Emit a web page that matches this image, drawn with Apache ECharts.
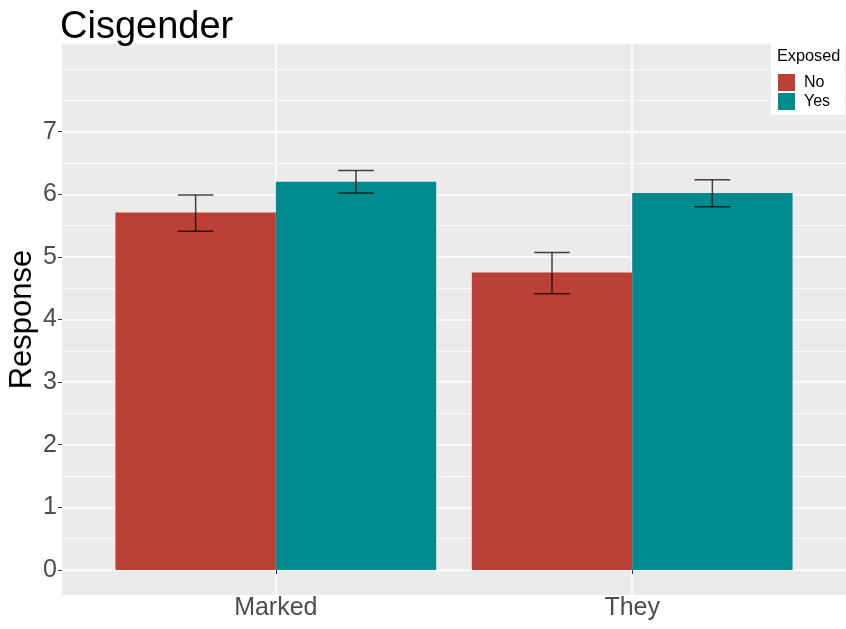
<!DOCTYPE html>
<html>
<head>
<meta charset="utf-8">
<title>Cisgender</title>
<script src="https://cdn.jsdelivr.net/npm/echarts@6/dist/echarts.min.js"></script>
<style>
  html, body { margin: 0; padding: 0; background: #fff; }
  #chart { width: 846px; height: 629px; }
</style>
</head>
<body>
<div id="chart"></div>
<script>
// data
var categories = ['Marked', 'They'];
var groups = ['No', 'Yes'];
var noMean = [5.71, 4.75];
var noLow = [5.41, 4.41];
var noHigh = [5.99, 5.07];
var yesMean = [6.20, 6.02];
var yesLow = [6.02, 5.80];
var yesHigh = [6.38, 6.23];
var yTicks = [0, 1, 2, 3, 4, 5, 6, 7];
var yMinor = [0.5, 1.5, 2.5, 3.5, 4.5, 5.5, 6.5, 7.5, 8];

var colors = ['#BB4035', '#008B8E'];
var font = 'Liberation Sans, Arial, sans-serif';

function rows(mean, low, high) {
    return mean.map(function (m, i) { return [i + 1, m, low[i], high[i]]; });
}

// bar + errorbar drawn through the axes, offset is the dodge position
function makeRender(offset) {
    return function (params, api) {
        var cx = api.value(0) + offset;
        var tl = api.coord([cx - 0.225, api.value(1)]);
        var br = api.coord([cx + 0.225, 0]);
        var lo = api.coord([cx, api.value(2)]);
        var hi = api.coord([cx, api.value(3)]);
        var capL = api.coord([cx - 0.05, 0])[0];
        var capR = api.coord([cx + 0.05, 0])[0];
        var es = { stroke: 'rgba(0,0,0,0.72)', lineWidth: 1.5 };
        return {
            type: 'group',
            children: [
                { type: 'rect', shape: { x: tl[0], y: tl[1], width: br[0] - tl[0], height: br[1] - tl[1] },
                  style: { fill: api.visual('color') } },
                { type: 'line', shape: { x1: hi[0], y1: hi[1], x2: lo[0], y2: lo[1] }, style: es },
                { type: 'line', shape: { x1: capL, y1: hi[1], x2: capR, y2: hi[1] }, style: es },
                { type: 'line', shape: { x1: capL, y1: lo[1], x2: capR, y2: lo[1] }, style: es }
            ]
        };
    };
}

var chart = echarts.init(document.getElementById('chart'));
var option = {
    backgroundColor: '#ffffff',
    animation: false,
    textStyle: { fontFamily: font },
    title: [{
        text: 'Cisgender',
        left: 60,
        top: 9,
        padding: 0,
        textStyle: { fontSize: 38, fontWeight: 'normal', color: '#000', fontFamily: font }
    }, {
        text: 'Exposed',
        left: 777,
        top: 49,
        padding: 0,
        z: 10,
        textStyle: { fontSize: 16.3, fontWeight: 'normal', color: '#000', fontFamily: font }
    }],
    legend: {
        data: groups,
        orient: 'vertical',
        left: 771,
        top: 44,
        padding: [30, 15, 5, 7],
        backgroundColor: '#ffffff',
        icon: 'rect',
        itemWidth: 17,
        itemHeight: 17,
        itemGap: 2,
        selectedMode: false,
        textStyle: { fontSize: 16, color: '#000', fontFamily: font, padding: [0, 0, 0, 4] }
    },
    grid: {
        left: 62, right: 0, top: 44, bottom: 34,
        outerBoundsMode: 'none',
        containLabel: false,
        show: true, backgroundColor: '#EBEBEB', borderWidth: 0
    },
    xAxis: {
        type: 'value',
        min: 0.4,
        max: 2.6,
        axisLine: { show: false },
        axisTick: { show: true, length: 4, lineStyle: { color: '#333', width: 1 }, customValues: [1, 2] },
        axisLabel: {
            customValues: [1, 2],
            margin: 1,
            fontSize: 25,
            color: '#4D4D4D',
            fontFamily: font,
            formatter: function (v) { return categories[Math.round(v) - 1] || ''; }
        },
        splitLine: { show: true, lineStyle: { color: '#ffffff', width: 1.6 } }
    },
    yAxis: [{
        type: 'value',
        min: -0.4,
        max: 8.4,
        name: 'Response',
        nameLocation: 'middle',
        nameRotate: 90,
        nameGap: 24,
        nameMoveOverlap: false,
        nameTextStyle: { fontSize: 31, color: '#000', fontFamily: font },
        axisLine: { show: false },
        axisTick: { show: true, length: 4, lineStyle: { color: '#333', width: 1 }, customValues: yTicks },
        axisLabel: { customValues: yTicks, margin: 5, fontSize: 25, color: '#4D4D4D', fontFamily: font },
        splitLine: { show: true, lineStyle: { color: '#ffffff', width: 1.6 } }
    }, {
        type: 'value',
        min: -0.4,
        max: 8.4,
        position: 'left',
        axisLine: { show: false },
        axisTick: { show: false, customValues: yMinor },
        axisLabel: { show: false, customValues: yMinor },
        splitLine: { show: true, lineStyle: { color: '#ffffff', width: 0.8 } }
    }],
    series: [{
        name: groups[0],
        type: 'custom',
        itemStyle: { color: colors[0] },
        renderItem: makeRender(-0.225),
        encode: { x: 0, y: [1, 2, 3] },
        data: rows(noMean, noLow, noHigh),
        z: 3
    }, {
        name: groups[1],
        type: 'custom',
        itemStyle: { color: colors[1] },
        renderItem: makeRender(0.225),
        encode: { x: 0, y: [1, 2, 3] },
        data: rows(yesMean, yesLow, yesHigh),
        z: 3
    }]
};
chart.setOption(option);
</script>
</body>
</html>
